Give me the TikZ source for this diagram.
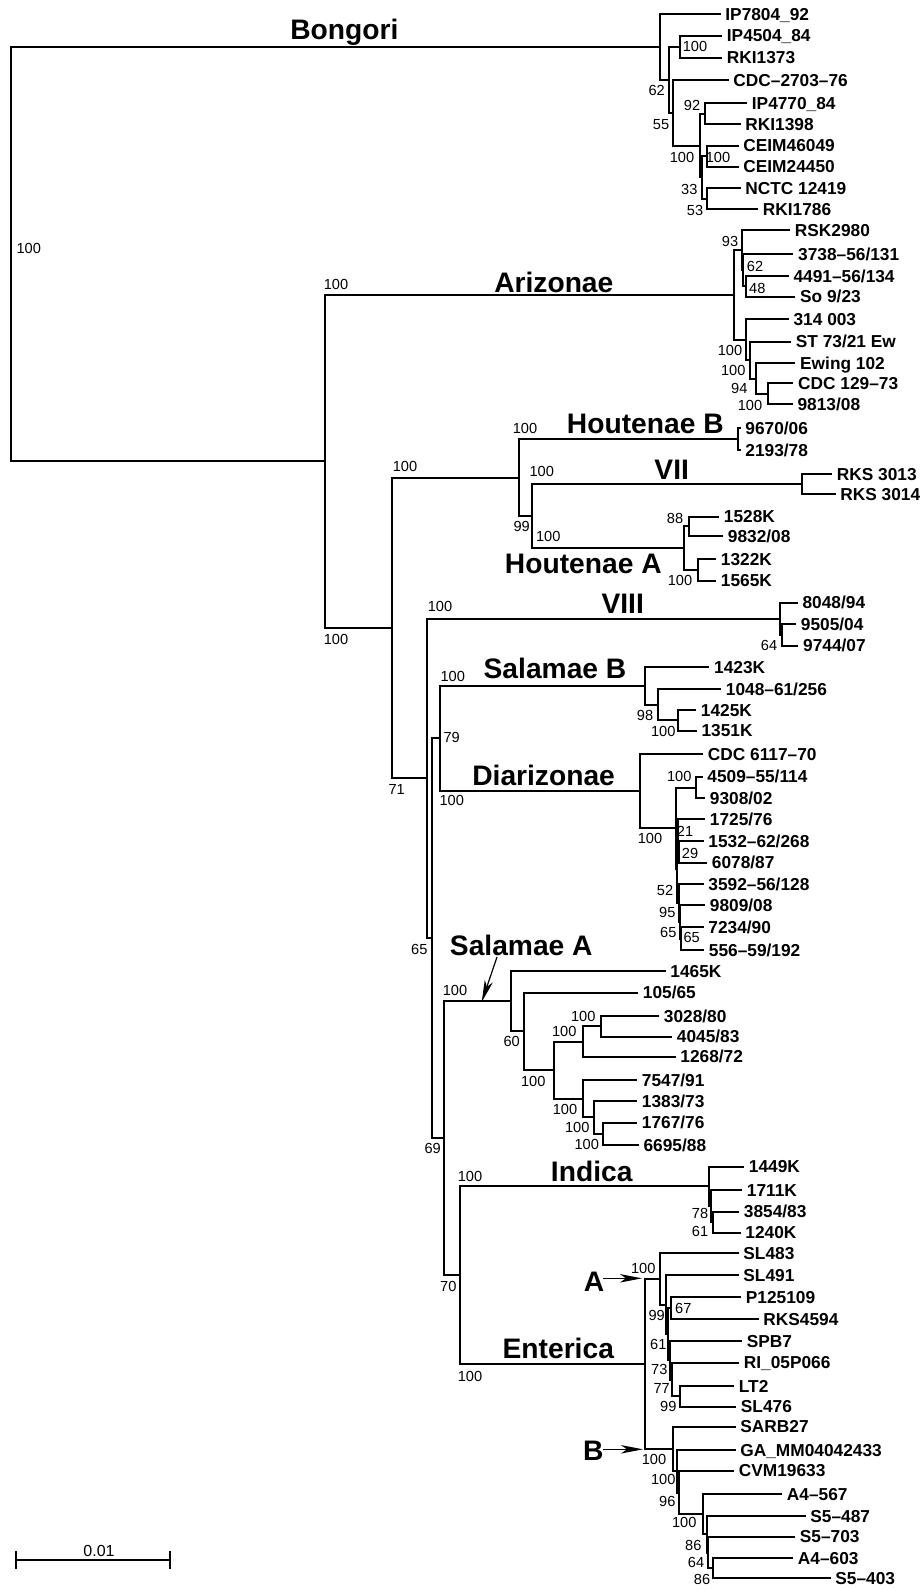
\documentclass[tikz,border=0pt]{standalone}
\usepackage{fontspec}
\setmainfont{Liberation Sans}
\usetikzlibrary{arrows.meta}
\newcommand\TrN[4]{\coordinate (#1) at (#3,#4); \draw[br] (#2) |- (#1);}
\newcommand\TrL[5]{\node[leaf] (#1) at (#3,#4) {#5}; \draw[br] (#2) |- (#1.west);}
\newcommand\SupL[4]{\node[bsl] (#1) at (#2,#3) {#4};}
\begin{document}
\begin{tikzpicture}[x=0.5pt,y=-0.5pt,
  br/.style={line width=1pt},
  leaf/.style={anchor=west, inner xsep=2.25pt, inner ysep=0pt, text height=6.19pt, text depth=0pt, font=\fontsize{8.65}{10}\selectfont\bfseries},
  bsl/.style={inner sep=0pt, text height=5.23pt, text depth=0pt, font=\fontsize{7.3}{9}\selectfont},
  clade/.style={inner sep=0pt, text height=10.1pt, text depth=0pt, font=\fontsize{14.1}{16}\selectfont\bfseries},
  pointer/.style={line width=0.6pt, -{Stealth[length=11pt,width=4.2pt,inset=3pt]}}]
\useasboundingbox (0,0) rectangle (921,1590);
\coordinate (R) at (11,254);
% ---------------- Bongori
\TrN{N1}{R}{660}{47}
\TrL{b1}{N1}{720.5}{14}{IP7804\_92}
\TrN{N2}{N1}{669}{80}
\TrN{N3}{N2}{680}{46.7}
\TrL{b2}{N3}{722}{35.7}{IP4504\_84}
\TrL{b3}{N3}{722}{57.7}{RKI1373}
\TrN{N4}{N2}{673}{113}
\TrL{b4}{N4}{728.5}{80}{CDC–2703–76}
\TrN{N5}{N4}{700}{145.6}
\TrN{N6}{N5}{705}{113.8}
\TrL{b5}{N6}{747}{103.3}{IP4770\_84}
\TrL{b6}{N6}{740.5}{124.3}{RKI1398}
\TrN{N7}{N5}{702}{177.3}
\TrN{N8}{N7}{706.7}{156}
\TrL{b7}{N8}{738.5}{145.7}{CEIM46049}
\TrL{b8}{N8}{738.5}{166.7}{CEIM24450}
\TrN{N9}{N7}{706.7}{198.7}
\TrL{b9}{N9}{740.5}{188.3}{NCTC 12419}
\TrL{b10}{N9}{758}{209.3}{RKI1786}
% ---------------- Arizonae
\TrN{P1}{R}{325}{461.3}
\TrN{A0}{P1}{734.3}{295}
\TrN{A1}{A0}{741.7}{250.2}
\TrL{a1}{A1}{790}{230}{RSK2980}
\TrN{A1b}{A1}{743.3}{270.3}
\TrL{a2}{A1b}{793.3}{254.3}{3738–56/131}
\TrN{A1c}{A1b}{745.7}{286.3}
\TrL{a3}{A1c}{788.7}{276}{4491–56/134}
\TrL{a4}{A1c}{795.3}{296.7}{So 9/23}
\TrN{A2}{A0}{745.7}{339.7}
\TrL{a5}{A2}{788.7}{319.3}{314 003}
\TrN{A3}{A2}{750}{360.1}
\TrL{a6}{A3}{791}{341.7}{ST 73/21 Ew}
\TrN{A4}{A3}{756}{378.6}
\TrL{a7}{A4}{795.3}{363.3}{Ewing 102}
\TrN{A5}{A4}{768.3}{393.8}
\TrL{a8}{A5}{793.3}{383.3}{CDC 129–73}
\TrL{a9}{A5}{792.7}{404.3}{9813/08}
% ---------------- Houtenae / VII
\TrN{P2}{P1}{391.7}{627.9}
\TrN{H0}{P2}{519.3}{477.6}
\TrN{HB}{H0}{737.7}{439.2}
\TrL{h1}{HB}{740.5}{428.3}{9670/06}
\TrL{h2}{HB}{740.5}{450}{2193/78}
\TrN{H1}{H0}{532.3}{516.1}
\TrN{V7}{H1}{801.7}{484}
\TrL{h3}{V7}{832}{474}{RKS 3013}
\TrL{h4}{V7}{835.5}{494}{RKS 3014}
\TrN{HA}{H1}{684}{548.2}
\TrN{HA1}{HA}{689.3}{526.3}
\TrL{h5}{HA1}{719}{516.7}{1528K}
\TrL{h6}{HA1}{723}{536}{9832/08}
\TrN{HA2}{HA}{698.3}{570}
\TrL{h7}{HA2}{716}{559.3}{1322K}
\TrL{h8}{HA2}{716}{580.7}{1565K}
% ---------------- VIII
\TrN{P3}{P2}{426.7}{778.3}
\TrN{V8}{P3}{780}{618.8}
\TrL{v1}{V8}{797.7}{602.5}{8048/94}
\TrN{V8b}{V8}{781.7}{635}
\TrL{v2}{V8b}{796}{624.3}{9505/04}
\TrL{v3}{V8b}{798.3}{645.7}{9744/07}
% ---------------- Salamae B / Diarizonae
\TrN{P4}{P3}{431.7}{938.3}
\TrN{P5}{P4}{440}{738.4}
\TrN{SB}{P5}{645}{686}
\TrL{s1}{SB}{709.3}{667.3}{1423K}
\TrN{SB1}{SB}{658.3}{704.7}
\TrL{s2}{SB1}{721}{689}{1048–61/256}
\TrN{SB2}{SB1}{677.7}{720.3}
\TrL{s3}{SB2}{696}{710}{1425K}
\TrL{s4}{SB2}{696.7}{730.7}{1351K}
\TrN{D0}{P5}{640}{790.7}
\TrL{d1}{D0}{703}{754}{CDC 6117–70}
\TrN{D1}{D0}{676}{828.4}
\TrN{D2}{D1}{696}{787.5}
\TrL{d2}{D2}{702.5}{776.7}{4509–55/114}
\TrL{d3}{D2}{705}{798.3}{9308/02}
\TrN{DX}{D1}{677}{869.3}
\TrN{DZ}{DX}{677.5}{835.6}
\TrL{d4}{DZ}{705}{819.3}{1725/76}
\TrN{DR2}{DZ}{678.5}{851.9}
\TrL{d5}{DR2}{703.5}{841}{1532–62/268}
\TrL{d6}{DR2}{707}{862.7}{6078/87}
\TrN{DR3}{DX}{678.5}{903}
\TrL{d7}{DR3}{703.5}{884.3}{3592–56/128}
\TrN{DR3b}{DR3}{680}{921.8}
\TrL{d8}{DR3b}{705}{905}{9809/08}
\TrN{DR3a}{DR3b}{681}{938.7}
\TrL{d9}{DR3a}{703.5}{927.3}{7234/90}
\TrL{d10}{DR3a}{704}{950}{556–59/192}
% ---------------- Salamae A
\TrN{P6}{P4}{444.3}{1138.2}
\TrN{SA0}{P6}{510.7}{1001}
\TrL{sa1}{SA0}{665.5}{971}{1465K}
\TrN{SA1}{SA0}{524}{1031.2}
\TrL{sa2}{SA1}{638}{992.7}{105/65}
\TrN{SA2}{SA1}{554.3}{1070.1}
\TrN{SA3}{SA2}{583.3}{1041.5}
\TrN{SA3a}{SA3}{601}{1026.3}
\TrL{sa3}{SA3a}{659}{1016}{3028/80}
\TrL{sa4}{SA3a}{672}{1036.7}{4045/83}
\TrL{sa5}{SA3}{675.5}{1056.7}{1268/72}
\TrN{SA4}{SA2}{583.3}{1098.7}
\TrL{sa6}{SA4}{637}{1080}{7547/91}
\TrN{SA5}{SA4}{594}{1117.4}
\TrL{sa7}{SA5}{637}{1101}{1383/73}
\TrN{SA6}{SA5}{602.7}{1133.8}
\TrL{sa8}{SA6}{637}{1122.7}{1767/76}
\TrL{sa9}{SA6}{638.7}{1145}{6695/88}
% ---------------- Indica
\TrN{P7}{P6}{460}{1275.3}
\TrN{I0}{P7}{709.3}{1186.4}
\TrL{i1}{I0}{744}{1166.7}{1449K}
\TrN{I1}{I0}{711}{1206.1}
\TrL{i2}{I1}{742}{1190}{1711K}
\TrN{I2}{I1}{712.7}{1222.2}
\TrL{i3}{I2}{739}{1211.7}{3854/83}
\TrL{i4}{I2}{740.5}{1232.7}{1240K}
% ---------------- Enterica
\TrN{E0}{P7}{644.5}{1364}
\TrN{EA}{E0}{660}{1279}
\TrL{e1}{EA}{738.5}{1253.3}{SL483}
\TrN{EA1}{EA}{666}{1304.6}
\TrL{e2}{EA1}{738.5}{1275}{SL491}
\TrN{EA2}{EA1}{667.7}{1334.3}
\TrN{EA3}{EA2}{670.7}{1308.3}
\TrL{e3}{EA3}{741}{1297.3}{P125109}
\TrL{e4}{EA3}{758.5}{1319.3}{RKS4594}
\TrN{EX}{EA2}{670}{1360.3}
\TrL{e5}{EX}{742}{1341}{SPB7}
\TrN{EY}{EX}{672.3}{1379.5}
\TrL{e6}{EY}{739}{1362.7}{RI\_05P066}
\TrN{EZ}{EY}{680}{1396.3}
\TrL{e7}{EZ}{734}{1386}{LT2}
\TrL{e8}{EZ}{736}{1406.7}{SL476}
\TrN{EB}{E0}{673.3}{1449}
\TrL{e9}{EB}{735.5}{1426.7}{SARB27}
\TrN{EB1}{EB}{676.7}{1471.3}
\TrL{e10}{EB1}{735.5}{1450}{GA\_MM04042433}
\TrN{EB2}{EB1}{678.7}{1492.5}
\TrL{e11}{EB2}{734}{1470.7}{CVM19633}
\TrN{EB3}{EB2}{702.7}{1514.3}
\TrL{e12}{EB3}{782}{1494.3}{A4–567}
\TrN{EB4}{EB3}{706.7}{1534.3}
\TrL{e13}{EB4}{805.5}{1516}{S5–487}
\TrN{EB5}{EB4}{707.7}{1552.5}
\TrL{e14}{EB5}{795}{1536.7}{S5–703}
\TrN{EB6}{EB5}{713.3}{1568.3}
\TrL{e15}{EB6}{793}{1558.3}{A4–603}
\TrL{e16}{EB6}{830.5}{1578.3}{S5–403}
% ---------------- support values
\SupL{q0}{28.7}{248.7}{100}
\SupL{q1}{656.7}{90}{62}
\SupL{q2}{695}{46.7}{100}
\SupL{q3}{661}{124}{55}
\SupL{q4}{692}{105}{92}
\SupL{q5}{682}{157}{100}
\SupL{q6}{718}{157}{100}
\SupL{q7}{689.3}{189}{33}
\SupL{q8}{695}{210}{53}
\SupL{q9}{336}{284}{100}
\SupL{q10}{336}{639.3}{100}
\SupL{q11}{730}{241.7}{93}
\SupL{q12}{755}{266.7}{62}
\SupL{q13}{757.3}{288.3}{48}
\SupL{q14}{730}{350}{100}
\SupL{q15}{733.3}{370}{100}
\SupL{q16}{739.3}{388.3}{94}
\SupL{q17}{750}{405}{100}
\SupL{q18}{405}{466.5}{100}
\SupL{q19}{396.7}{789.3}{71}
\SupL{q20}{525}{428.3}{100}
\SupL{q21}{541.7}{471}{100}
\SupL{q22}{521.7}{526}{99}
\SupL{q23}{548.3}{536}{100}
\SupL{q24}{675}{518.3}{88}
\SupL{q25}{680}{580}{100}
\SupL{q26}{440}{606.7}{100}
\SupL{q27}{769}{645}{64}
\SupL{q28}{452.7}{676}{100}
\SupL{q29}{451.7}{737.3}{79}
\SupL{q30}{451.7}{800.7}{100}
\SupL{q31}{645}{715}{98}
\SupL{q32}{663.3}{731.7}{100}
\SupL{q33}{650}{838.3}{100}
\SupL{q34}{679.3}{776.7}{100}
\SupL{q35}{685}{831.7}{21}
\SupL{q36}{690}{853.3}{29}
\SupL{q37}{665}{890}{52}
\SupL{q38}{667.3}{912.7}{95}
\SupL{q39}{668.3}{932.7}{65}
\SupL{q40}{691.7}{937.3}{65}
\SupL{q41}{419.3}{949.3}{65}
\SupL{q42}{455}{990.7}{100}
\SupL{q43}{511.7}{1041.7}{60}
\SupL{q44}{533.3}{1081.7}{100}
\SupL{q45}{583.3}{1016}{100}
\SupL{q46}{564.3}{1031.7}{100}
\SupL{q47}{565}{1109.3}{100}
\SupL{q48}{577.3}{1127.3}{100}
\SupL{q49}{586.7}{1144}{100}
\SupL{q50}{432.7}{1148.3}{69}
\SupL{q51}{470}{1176.7}{100}
\SupL{q52}{470}{1376.7}{100}
\SupL{q53}{448.3}{1286.7}{70}
\SupL{q54}{700}{1213.3}{78}
\SupL{q55}{700}{1231.7}{61}
\SupL{q56}{643.3}{1268.3}{100}
\SupL{q57}{656.7}{1315}{99}
\SupL{q58}{683.3}{1308.3}{67}
\SupL{q59}{658.3}{1344}{61}
\SupL{q60}{659.3}{1369.3}{73}
\SupL{q61}{661.7}{1388.3}{77}
\SupL{q62}{668.3}{1406}{99}
\SupL{q63}{654}{1459.3}{100}
\SupL{q64}{663.3}{1479.3}{100}
\SupL{q65}{667.3}{1501}{96}
\SupL{q66}{684.3}{1522.7}{100}
\SupL{q67}{693.3}{1545}{86}
\SupL{q68}{696}{1562.3}{64}
\SupL{q69}{702}{1579.3}{86}
% ---------------- clade labels
\node[clade] (cBon) at (344.3,29) {Bongori};
\node[clade] (cAri) at (553.8,282.5) {Arizonae};
\node[clade] (cHoB) at (645.3,423.3) {Houtenae B};
\node[clade] (cVII) at (671.7,469.5) {VII};
\node[clade] (cHoA) at (583.3,563.3) {Houtenae A};
\node[clade] (cVIII) at (622.7,603.3) {VIII};
\node[clade] (cSaB) at (555,668.8) {Salamae B};
\node[clade] (cDia) at (543.6,775) {Diarizonae};
\node[clade] (cSaA) at (521.3,945) {Salamae A};
\node[clade] (cInd) at (591.7,1171.7) {Indica};
\node[clade] (cEnt) at (558.3,1348.3) {Enterica};
\node[clade] (cA) at (594,1281.7) {A};
\node[clade] (cB) at (593.3,1450.8) {B};
% ---------------- pointers
\coordinate (saS) at (497,957);
\coordinate (saE) at (481.7,1002);
\draw[pointer] (saS) -- (saE);
\coordinate (aS) at (603.3,1278.3);
\coordinate (aE) at (642,1278.3);
\draw[pointer] (aS) -- (aE);
\coordinate (bS) at (603.3,1449.3);
\coordinate (bE) at (643,1449.3);
\draw[pointer] (bS) -- (bE);
% ---------------- scale bar
\coordinate (sbl) at (16,1560);
\coordinate (sbr) at (170,1560);
\draw[br] (sbl) -- (sbr);
\draw[br] ([yshift=4.5pt]sbl) -- ([yshift=-4.5pt]sbl);
\draw[br] ([yshift=4.5pt]sbr) -- ([yshift=-4.5pt]sbr);
\node[inner sep=0pt, text height=5.73pt, text depth=0pt, font=\fontsize{8}{10}\selectfont] (sbt) at (99,1550.8) {0.01};
\end{tikzpicture}
\end{document}
